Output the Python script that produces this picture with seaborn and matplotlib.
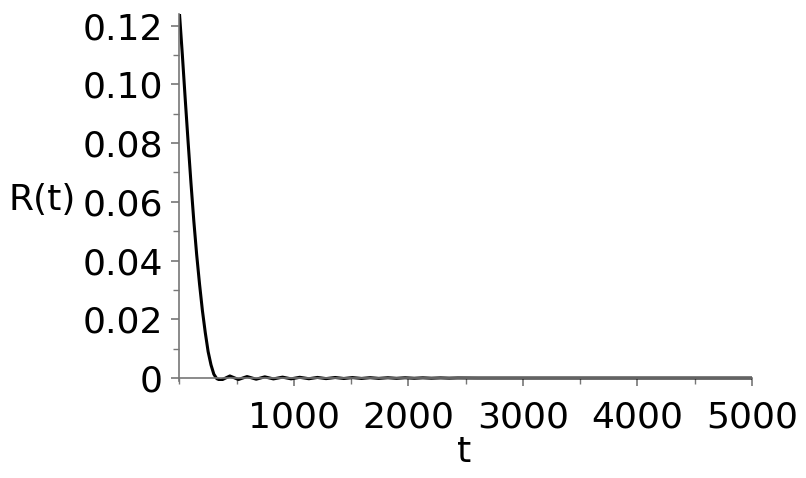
import numpy as np
import pandas as pd
import matplotlib
matplotlib.use("Agg")
import matplotlib.pyplot as plt
import seaborn as sns
from matplotlib.ticker import MultipleLocator

# R(t)
t_vals = [0, 25, 50, 75, 100, 125, 150, 175, 200, 225, 250, 275, 300, 325,
          360, 440, 515, 590, 670, 745, 820, 900, 975, 1050, 1130, 1205,
          1280, 1360, 1435, 1510, 1590, 1665, 1740, 1820, 1895, 1970, 2050,
          2125, 2200, 2280, 2355, 2430, 2600, 3000, 4000, 5000]
r_vals = [0.1240, 0.1100, 0.0950, 0.0805, 0.0665, 0.0535, 0.0420, 0.0320,
          0.0230, 0.0155, 0.0090, 0.0045, 0.0013, -0.0002,
          -0.0008, 0.0007, -0.0005, 0.0005, -0.0004, 0.0004, -0.0003, 0.0003,
          -0.00028, 0.00025, -0.00024, 0.0002, -0.0002, 0.00018, -0.00016,
          0.00015, -0.00014, 0.00012, -0.00012, 0.0001, -0.0001, 0.00009,
          -0.00008, 0.00007, -0.00006, 0.00005, -0.00004, 0.00003, 0.0, 0.0,
          0.0, 0.0]

x_ticks = [1000, 2000, 3000, 4000, 5000]
y_ticks = [0, 0.02, 0.04, 0.06, 0.08, 0.10, 0.12]
y_labels = ["0", "0.02", "0.04", "0.06", "0.08", "0.10", "0.12"]

df = pd.DataFrame({"t": t_vals, "R": r_vals})

sns.set_style("ticks")
plt.rcParams["font.family"] = ["DejaVu Sans"]

fig = plt.figure(figsize=(8.06, 4.78), dpi=100)
ax = fig.add_axes([0.2227, 0.203, 0.7103, 0.768])

sns.lineplot(data=df, x="t", y="R", color="black", linewidth=2.2, ax=ax)

ax.set_xlim(0, 5000)
ax.set_ylim(-0.001, 0.124)

ax.spines["top"].set_visible(False)
ax.spines["right"].set_visible(False)
ax.spines["bottom"].set_position(("data", 0))
for s in ["left", "bottom"]:
    ax.spines[s].set_color("#777777")
    ax.spines[s].set_linewidth(1.2)

ax.set_xticks(x_ticks)
ax.xaxis.set_minor_locator(MultipleLocator(500))
ax.set_yticks(y_ticks)
ax.set_yticklabels(y_labels)
ax.yaxis.set_minor_locator(MultipleLocator(0.01))

ax.tick_params(axis="both", which="major", length=6, width=1.2, color="#777777",
               labelsize=26, labelcolor="black")
ax.tick_params(axis="both", which="minor", length=4, width=1.0, color="#777777")
ax.tick_params(axis="x", pad=10)
ax.tick_params(axis="y", pad=6)

ax.set_xlabel("t", fontsize=26, color="black", va="center")
ax.set_ylabel("R(t)", fontsize=26, color="black", rotation=0, ha="center", va="center")
ax.xaxis.set_label_coords(0.4975, -0.193)
ax.yaxis.set_label_coords(-0.24, 0.493)

fig.savefig("out.png", dpi=100)
